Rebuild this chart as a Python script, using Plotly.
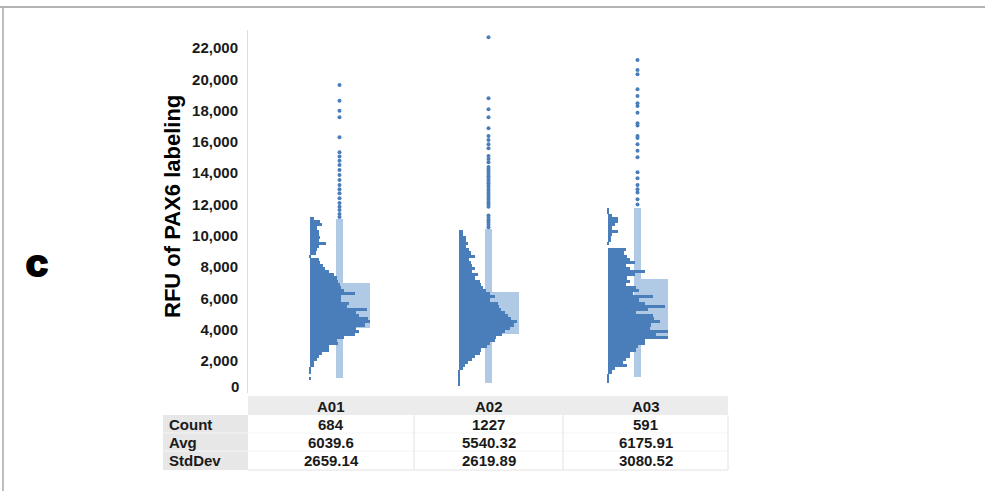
import plotly.graph_objects as go

# ---------------- data ----------------
WELLS = ["A01", "A02", "A03"]
WELL_POS = [1, 2, 3]

BINS = [500, 700, 900, 1100, 1300, 1500, 1700, 1900, 2100, 2300, 2500, 2700, 2900,
        3100, 3300, 3500, 3700, 3900, 4100, 4300, 4500, 4700, 4900, 5100, 5300,
        5500, 5700, 5900, 6100, 6300, 6500, 6700, 6900, 7100, 7300, 7500, 7700,
        7900, 8100, 8300, 8500, 8700, 8900, 9100, 9300, 9500, 9700, 9900, 10100,
        10300, 10500, 10700, 10900, 11100, 11300, 11500, 11700]
BIN_WIDTH = 200

HIST_A01 = [0, 0, 1, 0, 1, 1, 3, 3, 5, 6, 8, 13, 13, 19, 18, 23, 30, 33, 31, 37, 40,
            39, 33, 31, 38, 25, 26, 21, 21, 30, 23, 21, 20, 19, 18, 16, 13, 10, 9, 7,
            6, 1, 4, 5, 6, 11, 6, 7, 6, 6, 5, 8, 7, 3, 0, 0, 0]
HIST_A02 = [1, 1, 1, 1, 1, 3, 4, 6, 9, 11, 14, 15, 19, 21, 24, 25, 29, 31, 34, 37, 39,
            35, 33, 31, 28, 27, 26, 21, 24, 21, 18, 16, 15, 14, 11, 13, 9, 11, 9, 8,
            7, 11, 8, 7, 5, 6, 5, 5, 3, 3, 0, 0, 0, 0, 0, 0, 0]
HIST_A03 = [0, 1, 1, 1, 3, 5, 13, 10, 12, 15, 15, 19, 20, 25, 25, 40, 32, 40, 28, 29,
            35, 31, 30, 19, 27, 38, 25, 21, 30, 17, 21, 19, 12, 15, 13, 18, 25, 15, 12,
            18, 15, 13, 11, 12, 0, 1, 2, 2, 3, 7, 3, 5, 7, 7, 3, 1, 1]
HISTS = [HIST_A01, HIST_A02, HIST_A03]

WHISKER_LOW = [900, 580, 960]
WHISKER_HIGH = [11055, 10416, 11758]
Q1 = [4090, 3706, 3515]
Q3 = [6965, 6390, 7221]

OUT_A01 = [19630, 18630, 17990, 17570, 16290, 15340, 15060, 14800, 14530, 14210,
           13890, 13570, 13250, 12970, 12720, 12400, 12100, 11860, 11650, 11400, 11200]
OUT_A02 = [22690, 18790, 18080, 17570, 16870, 16380, 16120, 15850, 15590, 15100,
           14900, 14700, 14400, 14250, 14100, 13950, 13800, 13650, 13500, 13350,
           13200, 13050, 12900, 12750, 12600, 12450, 12300, 12150, 12000, 11850,
           11300, 11150, 11000, 10850, 10700, 10550]
OUT_A03 = [21230, 20600, 20320, 19360, 18930, 18470, 18300, 17870, 17190, 17050,
           16380, 16250, 15850, 15440, 15020, 14060, 13670, 13250, 12970, 12760,
           12330, 12000]
OUTLIERS = [OUT_A01, OUT_A02, OUT_A03]

ROW_LABELS = ["Count", "Avg", "StdDev"]
COUNT = [684, 1227, 591]
AVG = [6039.6, 5540.32, 6175.91]
STDDEV = [2659.14, 2619.89, 3080.52]

Y_TICKS = [2000, 4000, 6000, 8000, 10000, 12000, 14000, 16000, 18000, 20000, 22000]

# ---------------- styling / layout helpers ----------------
W, H = 985, 491
DARK = "#4a7ebb"
LIGHT = "#b0c9e4"
FONT = "Liberation Sans"
PX_PER_UNIT = 149.0           # pixels between well positions
HIST_OFFSET = -30 / PX_PER_UNIT
COUNT_SCALE = 1.5 / PX_PER_UNIT


def X(px):
    return px / W


def Y(py):
    return 1 - py / H


fig = go.Figure()

for i, pos in enumerate(WELL_POS):
    # whisker band
    fig.add_trace(go.Bar(
        x=[pos], y=[WHISKER_HIGH[i] - WHISKER_LOW[i]], base=[WHISKER_LOW[i]],
        width=7 / PX_PER_UNIT, offset=-3.5 / PX_PER_UNIT,
        marker=dict(color=LIGHT, line=dict(width=0)), showlegend=False,
        hoverinfo="skip"))
    # box (Q1-Q3)
    fig.add_trace(go.Bar(
        x=[pos], y=[Q3[i] - Q1[i]], base=[Q1[i]],
        width=34 / PX_PER_UNIT, offset=-3.5 / PX_PER_UNIT,
        marker=dict(color=LIGHT, line=dict(width=0)), showlegend=False,
        hoverinfo="skip"))

for i, pos in enumerate(WELL_POS):
    fig.add_trace(go.Bar(
        orientation="h", y=BINS, x=[c * COUNT_SCALE for c in HISTS[i]],
        base=pos + HIST_OFFSET, width=BIN_WIDTH,
        marker=dict(color=DARK, line=dict(width=0)), showlegend=False,
        hovertext=[str(c) for c in HISTS[i]], hoverinfo="text"))

for i, pos in enumerate(WELL_POS):
    fig.add_trace(go.Scatter(
        x=[pos] * len(OUTLIERS[i]), y=OUTLIERS[i], mode="markers",
        marker=dict(color=DARK, size=4), showlegend=False))

shapes = []
annotations = []

# outer frame lines
shapes.append(dict(type="line", xref="paper", yref="paper", x0=0, x1=1,
                   y0=Y(7), y1=Y(7), line=dict(color="#9a9a9a", width=1.5)))
shapes.append(dict(type="line", xref="paper", yref="paper", x0=X(3), x1=X(3),
                   y0=Y(7), y1=0, line=dict(color="#a8a8a8", width=1.5)))

# table backgrounds
shapes.append(dict(type="rect", xref="paper", yref="paper", x0=X(248), x1=X(728),
                   y0=Y(415), y1=Y(396), fillcolor="#ececec", line=dict(width=0),
                   layer="below"))
shapes.append(dict(type="rect", xref="paper", yref="paper", x0=X(163), x1=X(248),
                   y0=Y(470), y1=Y(415), fillcolor="#e7e7e7", line=dict(width=0),
                   layer="below"))
# table grid
for yy in [433, 451]:
    shapes.append(dict(type="line", xref="paper", yref="paper", x0=X(163), x1=X(728),
                       y0=Y(yy), y1=Y(yy), line=dict(color="#f4f4f4", width=1)))
shapes.append(dict(type="line", xref="paper", yref="paper", x0=X(248), x1=X(728),
                   y0=Y(470), y1=Y(470), line=dict(color="#e2e2e2", width=1)))
for xx in [414, 563, 728]:
    shapes.append(dict(type="line", xref="paper", yref="paper", x0=X(xx), x1=X(xx),
                       y0=Y(470), y1=Y(415), line=dict(color="#e2e2e2", width=1)))

col_centers = [331, 488.5, 645.5]
row_y = [424, 442, 460]
tfont = dict(family=FONT, size=15, color="#1a1a1a", weight="bold")
for j, w in enumerate(WELLS):
    annotations.append(dict(x=X(col_centers[j]), y=Y(406), xref="paper", yref="paper",
                            text=w, showarrow=False, font=tfont,
                            xanchor="center", yanchor="middle"))
rows = [[str(v) for v in COUNT], [str(v) for v in AVG], [str(v) for v in STDDEV]]
for r, lab in enumerate(ROW_LABELS):
    annotations.append(dict(x=X(167), y=Y(row_y[r]), xref="paper", yref="paper",
                            text=lab, showarrow=False, font=tfont,
                            xanchor="left", yanchor="middle"))
    for j in range(3):
        annotations.append(dict(x=X(col_centers[j]), y=Y(row_y[r]), xref="paper",
                                yref="paper", text=rows[r][j], showarrow=False,
                                font=tfont, xanchor="center", yanchor="middle"))

# y axis title, zero label and panel letter
annotations.append(dict(x=X(173), y=Y(207), xref="paper", yref="paper",
                        text="RFU of PAX6 labeling", textangle=-90, showarrow=False,
                        font=dict(family=FONT, size=22, color="#000", weight="bold"),
                        xanchor="center", yanchor="middle"))
annotations.append(dict(x=X(241), y=Y(386), xref="paper", yref="paper", text="0",
                        showarrow=False,
                        font=dict(family=FONT, size=15, color="#1a1a1a", weight="bold"),
                        xanchor="right", yanchor="middle"))
annotations.append(dict(x=X(37), y=Y(262), xref="paper", yref="paper", text="c",
                        showarrow=False,
                        font=dict(family="Inter", size=40, color="#000",
                                  weight=900),
                        xanchor="center", yanchor="middle"))

x_lo = (248 - 190.5) / PX_PER_UNIT
x_hi = (728 - 190.5) / PX_PER_UNIT
fig.update_layout(
    width=W, height=H, margin=dict(l=0, r=0, t=0, b=0),
    paper_bgcolor="white", plot_bgcolor="white",
    barmode="overlay", bargap=0,
    shapes=shapes, annotations=annotations,
    xaxis=dict(domain=[X(248), X(728)], range=[x_lo, x_hi], visible=False,
               fixedrange=True),
    yaxis=dict(domain=[Y(393), Y(30)], range=[-45, 23150], tickvals=Y_TICKS,
               tickformat=",d", showgrid=False, zeroline=False,
               showline=True, linecolor="#dedede", linewidth=1,
               ticks="", ticklabelstandoff=6,
               tickfont=dict(family=FONT, size=15, color="#1a1a1a", weight="bold")),
    font=dict(family=FONT),
)

fig.write_html("out.html",
               config={"displayModeBar": False},
               post_script="document.body.style.margin='0';"
                           "document.body.style.overflow='hidden';")
